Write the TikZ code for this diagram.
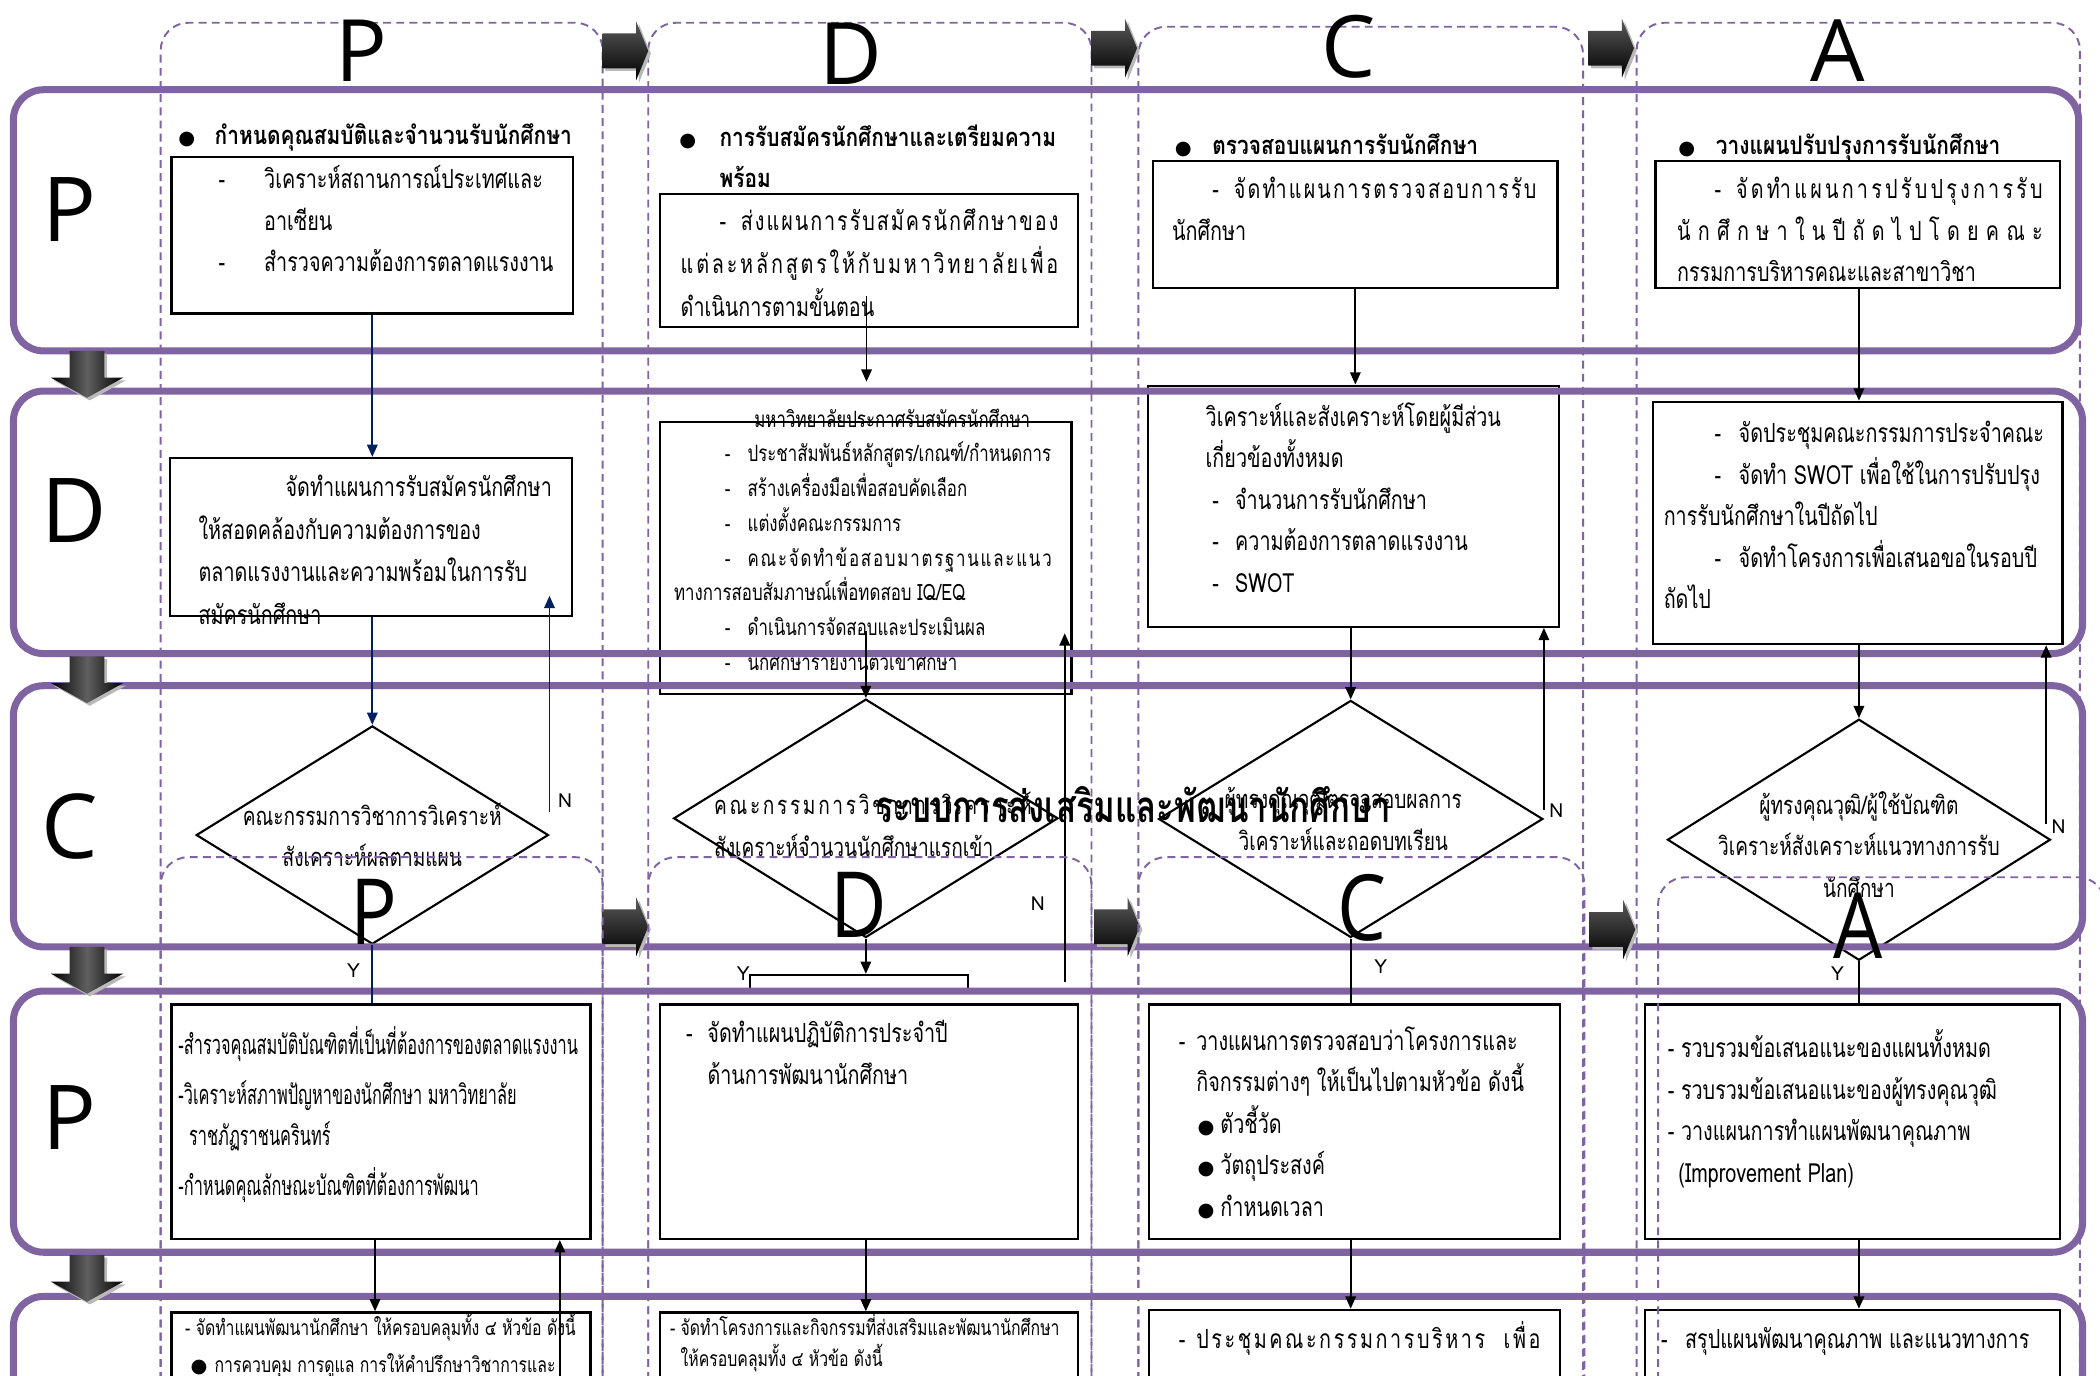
\documentclass[tikz,border=0pt]{standalone}
\usepackage{fontspec}
\setmainfont[Script=Thai]{Loma}
\newfontfamily\thai[Script=Thai]{Loma}
\newfontfamily\thaim[Script=Thai,FakeStretch=0.82]{Loma}
\newfontfamily\thaic[Script=Thai,FakeStretch=0.75]{Loma}
\newfontfamily\thaicc[Script=Thai,FakeStretch=0.6]{Loma}
\newfontfamily\bigfont{Open Sans}
\newfontfamily\bigcond[FakeStretch=0.85]{Open Sans}
\newfontfamily\symfont{DejaVu Sans}
\usetikzlibrary{positioning,arrows.meta,shapes.geometric,fit,calc}
\definecolor{pdcapurple}{HTML}{8064A2}
\definecolor{flownavy}{HTML}{002060}
\newlength\upx \setlength\upx{0.0268cm}
\newcommand\fbody{\fontsize{15}{23.6}\selectfont}
\newcommand\fsmall{\fontsize{12.8}{19.8}\selectfont}
\newcommand\ftiny{\fontsize{12}{17.5}\selectfont}
\newcommand\gap[1]{\hspace*{#1\upx}}
\newcommand\dsh[1]{\makebox[#1\upx][l]{-}}
\newcommand\bul[1]{\makebox[#1\upx][l]{\symfont\fontsize{11}{11}\selectfont ●}}
\newcommand\tspread[2]{\makebox[#1\upx][s]{\spaceskip=0pt plus 1fil\relax #2}}

\begin{document}
\begin{tikzpicture}[x=0.0268cm, y=-0.0268cm,
  lane/.style={draw=pdcapurple, line width=1.1pt, dash pattern=on 4.5pt off 3pt, rounded corners=0.55cm},
  band/.style={draw=pdcapurple, line width=4pt, rounded corners=0.6cm},
  box/.style={draw, line width=1.3pt, inner sep=0pt, fit={#1}},
  dia/.style 2 args={draw, diamond, line width=1.2pt, inner sep=0pt, minimum width=#1*\upx, minimum height=#2*\upx},
  txt/.style={anchor=north west, inner sep=0pt, align=left, execute at begin node=\strut, execute at end node=\strut},
  dtxt/.style={inner sep=0pt, align=center, execute at begin node=\strut, execute at end node=\strut, font=\thaic\fontsize{14.5}{23.6}\selectfont},
  head/.style={anchor=base west, inner sep=0pt, font=\thaim\bfseries\fontsize{14.5}{23.6}\selectfont},
  lbl/.style={inner sep=0pt, font=\thai\fontsize{11}{13}\selectfont},
  big/.style={anchor=base, inner sep=0pt, font=\bigfont\fontsize{49}{49}\selectfont},
  rowltr/.style={anchor=base, inner sep=0pt, font=\bigfont\fontsize{51}{51}\selectfont},
  lowltr/.style={anchor=base, inner sep=0pt, font=\bigcond\fontsize{52}{52}\selectfont},
  flow/.style={line width=1pt, -{Triangle[length=7pt,width=6pt]}},
  navyflow/.style={flow, flownavy},
  link/.style={line width=1pt},
  rblock/.pic={
    \fill[gray!55] (2,-11) -- (27,-11) -- (27,-20) -- (36,2) -- (27,24) -- (27,15) -- (2,15) -- cycle;
    \shade[top color=gray!70!black, bottom color=black] (0,-13) -- (25,-13) -- (25,-22) -- (34,0) -- (25,22) -- (25,13) -- (0,13) -- cycle;
  },
  dblock/.pic={
    \fill[gray!55] (-11,2) -- (15,2) -- (15,22) -- (29,22) -- (2,37) -- (-25,22) -- (-11,22) -- cycle;
    \shade[left color=black, right color=black, middle color=gray!75!black] (-13,0) -- (13,0) -- (13,20) -- (27,20) -- (0,35) -- (-27,20) -- (-13,20) -- cycle;
  }
]
\useasboundingbox (0,0) rectangle (1568,1027);
\clip (0,0) rectangle (1568,1027);
\fill[white] (0,0) rectangle (1568,1027);

% swim lanes P D C A
\draw[lane] (120,1060) -- (120,17) -- (450,17) -- (450,1060);
\draw[lane] (484,1060) -- (484,17) -- (815,17) -- (815,1060);
\draw[lane] (850,1060) -- (850,20) -- (1182,20) -- (1182,1060);
\draw[lane] (1222,1060) -- (1222,17) -- (1553,17) -- (1553,1060);

% column P
\node[head] (hp) at (133,108) {\bul{27}กำหนดคุณสมบัติและจำนวนรับนักศึกษา};
\node[box={(128,117) (428,234)}] (p1) {};
\node[txt, font=\thaic\fbody] (p1t) at (163,123.3) {\dsh{34}วิเคราะห์สถานการณ์ประเทศและ\\\gap{34}อาเซียน\\\dsh{34}สำรวจความต้องการตลาดแรงงาน};
\node[box={(127,342) (427,460)}] (p2) {};
\node[txt, font=\thaic\fontsize{15}{24.2}\selectfont] (p2t) at (148,354.3) {\gap{65}จัดทำแผนการรับสมัครนักศึกษา\\ให้สอดคล้องกับความต้องการของ\\ตลาดแรงงานและความพร้อมในการรับ\\สมัครนักศึกษา};
\node[dia={263}{163}] (pq) at (278,623.5) {};
\node[dtxt] (pqt) at (278,628) {คณะกรรมการวิชาการวิเคราะห์\\สังเคราะห์ผลตามแผน};
\node[box={(128,750) (441,925)}] (p4) {};
\node[txt, font=\thaicc\fontsize{15.5}{23.6}\selectfont] (p4t) at (133,766.3) {-สำรวจคุณสมบัติบัณฑิตที่เป็นที่ต้องการของตลาดแรงงาน\\[6\upx]-วิเคราะห์สภาพปัญหาของนักศึกษา มหาวิทยาลัย\\\gap{8}ราชภัฏราชนครินทร์\\[6\upx]-กำหนดคุณลักษณะบัณฑิตที่ต้องการพัฒนา};
\node[box={(128,980) (441,1045)}] (p5) {};
\node[txt, font=\thaic\ftiny] (p5t) at (138,979.9) {- จัดทำแผนพัฒนานักศึกษา ให้ครอบคลุมทั้ง ๔ หัวข้อ ดังนี้\\[5\upx]\gap{4}\bul{18}การควบคุม การดูแล การให้คำปรึกษาวิชาการและ};

% column D
\node[txt, font=\thaim\bfseries\fontsize{14.5}{23.6}\selectfont] (hd) at (507,92.8) {\bul{30}การรับสมัครนักศึกษาและเตรียมความ\\\gap{30}พร้อม};
\node[box={(493,145) (805,244)}] (d1) {};
\node[txt, font=\thaic\fontsize{15}{24.4}\selectfont] (d1t) at (508,155.8) {\gap{29}\dsh{16}\tspread{237}{ส่ ง แ ผ น ก า ร รั บ ส มั ค ร นั ก ศึ ก ษ า ข อ ง}\\\tspread{282}{แ ต่ ล ะ ห ลั ก สู ต ร ใ ห้ กั บ ม ห า วิ ท ย า ลั ย เ พื่ อ}\\ดำเนินการตามขั้นตอน};
\coordinate (dout) at (647,285);
\node[box={(493,315) (800,518)}] (d2) {};
\node[txt, font=\thaic\fsmall] (d2t) at (503,304.8) {\gap{60}มหาวิทยาลัยประกาศรับสมัครนักศึกษา\\
\gap{38}\dsh{17}ประชาสัมพันธ์หลักสูตร/เกณฑ์/กำหนดการ\\
\gap{38}\dsh{17}สร้างเครื่องมือเพื่อสอบคัดเลือก\\
\gap{38}\dsh{17}แต่งตั้งคณะกรรมการ\\
\gap{38}\dsh{17}\tspread{227}{ค ณ ะ จั ด ทำ ข้ อ ส อ บ ม า ต ร ฐ า น แ ล ะ แ น ว}\\
ทางการสอบสัมภาษณ์เพื่อทดสอบ IQ/EQ\\
\gap{38}\dsh{17}ดำเนินการจัดสอบและประเมินผล\\
\gap{38}\dsh{17}นักศึกษารายงานตัวเข้าศึกษา};
\node[dia={287}{178}] (dq) at (646.5,611) {};
\node[txt, font=\thaic\fontsize{14.5}{23.6}\selectfont] (dqt) at (533,591.3) {\tspread{237}{ค ณ ะ ก ร ร ม ก า ร วิ ช า ก า ร วิ เ ค ร า ะ ห์}\\สังเคราะห์จำนวนนักศึกษาแรกเข้า};
\node[box={(560,728) (723,741)}] (d3) {};
\coordinate (dnx) at (795,733);
\node[box={(493,750) (805,925)}] (d4) {};
\node[txt, font=\thaic\fbody] (d4t) at (512,761.8) {\dsh{16}จัดทำแผนปฏิบัติการประจำปี\\\gap{16}ด้านการพัฒนานักศึกษา};
\node[box={(493,980) (805,1045)}] (d5) {};
\node[txt, font=\thaic\ftiny] (d5t) at (500,980.9) {- จัดทำโครงการและกิจกรรมที่ส่งเสริมและพัฒนานักศึกษา\\\gap{8}ให้ครอบคลุมทั้ง ๔ หัวข้อ ดังนี้};

% column C
\node[head] (hc) at (877,115) {\bul{28}ตรวจสอบแผนการรับนักศึกษา};
\node[box={(861,120) (1163,215)}] (c1) {};
\node[txt, font=\thaic\fbody] (c1t) at (875,132.3) {\gap{30}\dsh{16}\tspread{226}{จั ด ทำ แ ผ น ก า ร ต ร ว จ ส อ บ ก า ร รั บ}\\นักศึกษา};
\node[box={(857,288) (1164,468)}] (c2) {};
\node[txt, font=\thaic\fbody] (c2t) at (900,300.3) {วิเคราะห์และสังเคราะห์โดยผู้มีส่วน\\เกี่ยวข้องทั้งหมด\\\gap{5}\dsh{17}จำนวนการรับนักศึกษา\\\gap{5}\dsh{17}ความต้องการตลาดแรงงาน\\\gap{5}\dsh{17}SWOT};
\node[dia={287}{177}] (cq) at (1008.5,611.5) {};
\node[dtxt] (cqt) at (1003,616) {ผู้ทรงคุณวุฒิตรวจสอบผลการ\\วิเคราะห์และถอดบทเรียน};
\node[box={(858,750) (1165,925)}] (c4) {};
\node[txt, font=\thaic\fbody] (c4t) at (880,766.3) {\dsh{13}วางแผนการตรวจสอบว่าโครงการและ\\\gap{13}กิจกรรมต่างๆ ให้เป็นไปตามหัวข้อ ดังนี้\\\gap{14}\bul{17}ตัวชี้วัด\\\gap{14}\bul{17}วัตถุประสงค์\\\gap{14}\bul{17}กำหนดเวลา};
\node[box={(858,978) (1165,1045)}] (c5) {};
\node[txt, font=\thaic\fbody] (c5t) at (880,985.3) {\dsh{13}\tspread{257}{ป ร ะ ชุ ม ค ณ ะ ก ร ร ม ก า ร บ ริ ห า ร \gap{10} เ พื่ อ}};

% column A
\node[head] (ha) at (1253,115) {\bul{28}วางแผนปรับปรุงการรับนักศึกษา};
\node[box={(1236,120) (1538,215)}] (a1) {};
\node[txt, font=\thaic\fbody] (a1t) at (1252,132.3) {\gap{28}\dsh{16}\tspread{229}{จั ด ทำ แ ผ น ก า ร ป รั บ ป รุ ง ก า ร รั บ}\\\tspread{273}{นั ก ศึ ก ษ า ใ น ปี ถั ด ไ ป โ ด ย ค ณ ะ}\\กรรมการบริหารคณะและสาขาวิชา};
\node[box={(1234,300) (1540,481)}] (a2) {};
\node[txt, font=\thaic\fbody] (a2t) at (1242,314.3) {\gap{38}\dsh{18}จัดประชุมคณะกรรมการประจำคณะ\\\gap{38}\dsh{18}จัดทำ SWOT เพื่อใช้ในการปรับปรุง\\การรับนักศึกษาในปีถัดไป\\\gap{38}\dsh{18}จัดทำโครงการเพื่อเสนอขอในรอบปี\\ถัดไป};
\node[dia={286}{180}] (aq) at (1388,627) {};
\node[dtxt] (aqt) at (1388,635) {ผู้ทรงคุณวุฒิ/ผู้ใช้บัณฑิต\\วิเคราะห์สังเคราะห์แนวทางการรับ\\นักศึกษา};
\node[box={(1228,750) (1538,925)}] (a4) {};
\node[txt, font=\thaic\fbody] (a4t) at (1245,768.8) {- รวบรวมข้อเสนอแนะของแผนทั้งหมด\\- รวบรวมข้อเสนอแนะของผู้ทรงคุณวุฒิ\\- วางแผนการทำแผนพัฒนาคุณภาพ\\\gap{8}(Improvement Plan)};
\node[box={(1228,978) (1538,1045)}] (a5) {};
\node[txt, font=\thaic\fbody] (a5t) at (1240,985.3) {\dsh{18}สรุปแผนพัฒนาคุณภาพ และแนวทางการ};

% row bands
\draw[band] (10,67) rectangle (1552,262);
\draw[band] (10,292) rectangle (1555,488);
\draw[band] (10,512) rectangle (1555,707);
\draw[band] (10,740) rectangle (1555,935);
\draw[band] (10,968) rectangle (1555,1100);

% connectors
\draw[navyflow] (p1.south) -- (p1.south |- p2.north);
\draw[navyflow] (pq.north |- p2.south) -- (pq.north);
\draw[navyflow] ($(pq.east)+(0,-17)$) -- ($(pq.east |- p2.south)+(0,-16)$);
\draw[link, flownavy] (pq.south) -- (pq.south |- p4.north);
\draw[flow] ($(pq.south |- p4.south)+(2,0)$) -- ($(pq.south |- p5.north)+(2,0)$);
\coordinate (pin) at (418,1030);
\draw[flow] (pin) -- (pin |- p4.south);

\draw[flow] ($(dout |- d1.south)+(0,-24)$) -- (dout);
\draw[flow] ($(dq.north |- d2.south)+(0,-48)$) -- (dq.north);
\draw[flow] (dnx) -- ($(dnx |- d2.south)+(0,-46)$);
\draw[flow] (dq.south) -- (dq.south |- d3.north);
\draw[flow] (dq.south |- d4.south) -- (dq.south |- d5.north);

\draw[flow] (c1.south) -- (c1.south |- c2.north);
\draw[flow] (cq.north |- c2.south) -- (cq.north);
\draw[flow] ($(cq.east)+(0,-7)$) -- (cq.east |- c2.south);
\draw[link] (cq.south) -- (cq.south |- c4.north);
\draw[flow] (cq.south |- c4.south) -- (cq.south |- c5.north);

\draw[flow] (aq.north |- a1.south) -- (aq.north |- a2.north);
\draw[flow] (aq.north |- a2.south) -- (aq.north);
\draw[flow] ($(aq.east)+(-4,-12)$) -- ($(aq.east |- a2.south)+(-4,0)$);
\draw[link] (aq.south) -- (aq.south |- a4.north);
\draw[flow] (aq.south |- a4.south) -- (aq.south |- a5.north);

% N / Y
\node[lbl] (pn) at (422,598) {N};
\node[lbl] (dn) at (775,675) {N};
\node[lbl] (cn) at (1162,605) {N};
\node[lbl] (an) at (1537,617) {N};
\node[lbl] (py) at (264,725) {Y};
\node[lbl] (dy) at (555,727) {Y};
\node[lbl] (cy) at (1031,722) {Y};
\node[lbl] (ay) at (1372,727) {Y};

% block arrows
\pic at (450,38) {rblock};
\pic at (815,36) {rblock};
\pic at (1186,36) {rblock};
\pic at (450,692) {rblock};
\pic at (817,692) {rblock};
\pic at (1187,694) {rblock};
\pic at (65,262) {dblock};
\pic at (65,490) {dblock};
\pic at (65,707) {dblock};
\pic at (65,937) {dblock};

% letters
\node[big] (tp) at (270,61) {P};
\node[big] (td) at (635,63) {D};
\node[big] (tc) at (1007,58) {C};
\node[big] (ta) at (1372,61) {A};
\node[rowltr] (rp) at (52,180) {P};
\node[rowltr] (rd) at (55,405) {D};
\node[rowltr] (rc) at (52,641) {C};
\node[rowltr] (rp2) at (52,858) {P};

% second lane set
\draw[lane] (120,1060) -- (120,640) -- (450,640) -- (450,1060);
\draw[lane] (484,1060) -- (484,640) -- (815,640) -- (815,1060);
\draw[lane] (850,1060) -- (850,640) -- (1183,640) -- (1183,1060);
\draw[lane] (1238,1060) -- (1238,655) -- (1572,655) -- (1572,1060);
\node[lowltr] (lp) at (279,705) {P};
\node[lowltr] (ld) at (641,700) {D};
\node[lowltr] (lc) at (1017,702) {C};
\node[lowltr] (la) at (1387,716) {A};

\node[anchor=base, inner sep=0pt, font=\thaic\bfseries\fontsize{25}{28}\selectfont] (title) at (846,614) {ระบบการส่งเสริมและพัฒนานักศึกษา};
\end{tikzpicture}
\end{document}
